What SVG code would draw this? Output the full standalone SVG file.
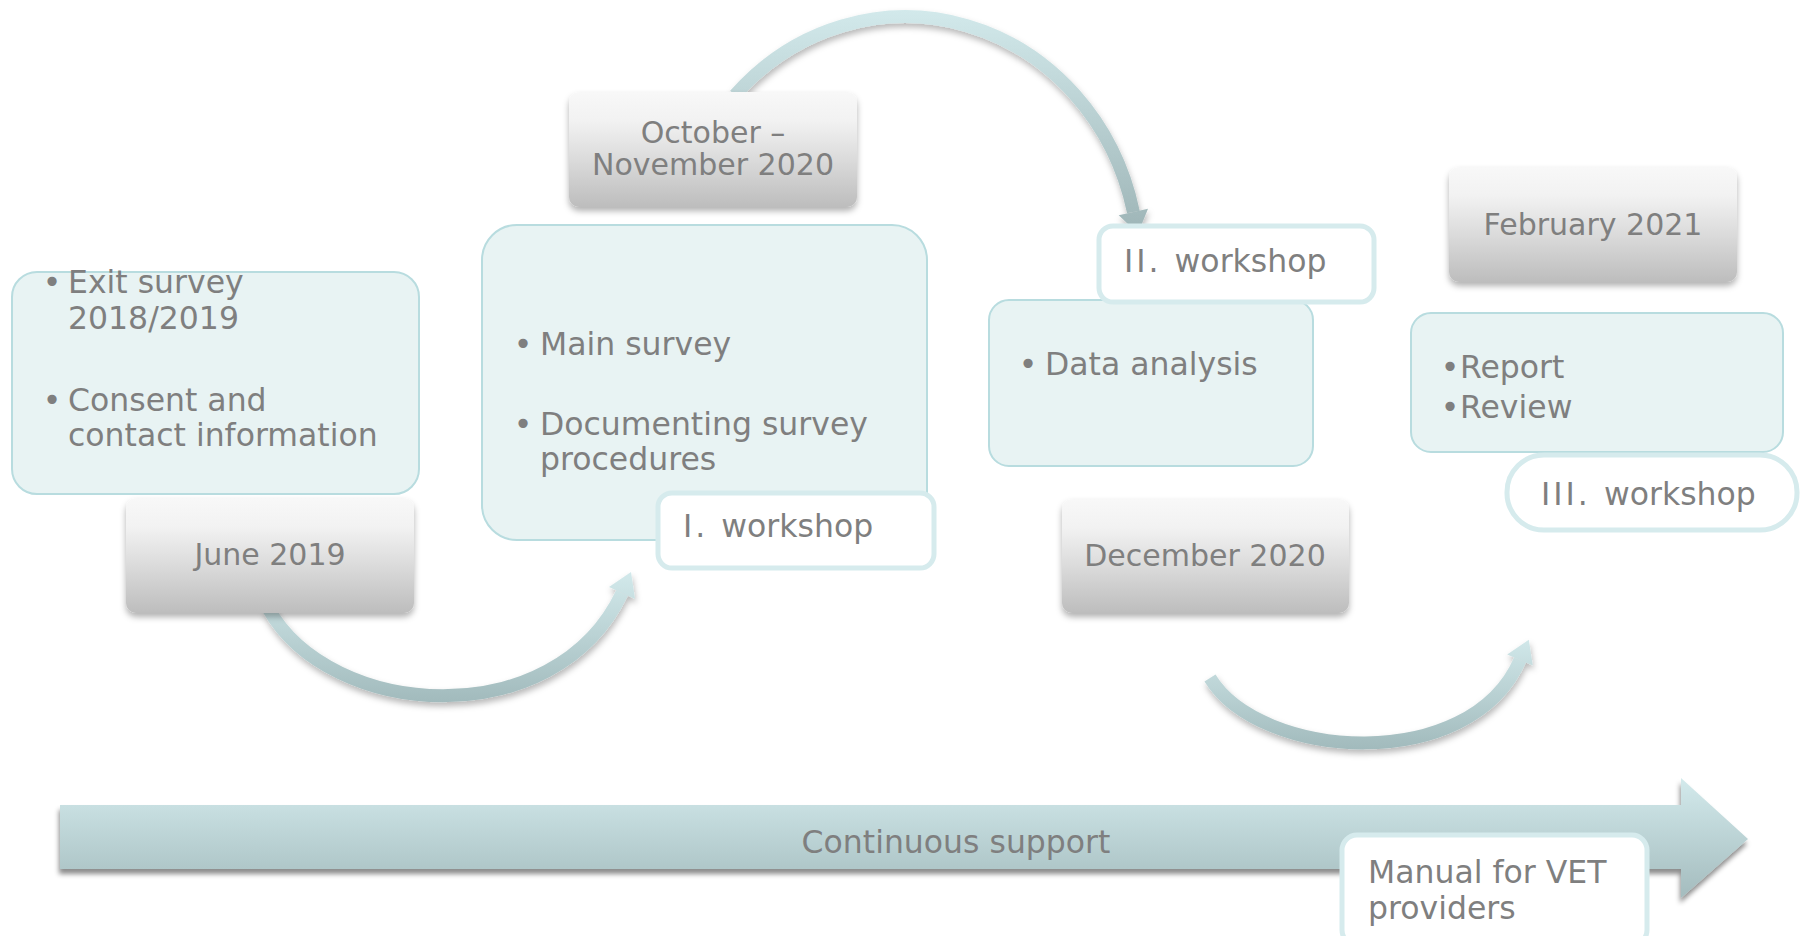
<svg xmlns="http://www.w3.org/2000/svg" width="1803" height="936" viewBox="0 0 1803 936">
  <defs>
    <style>
      .t { font-family: "DejaVu Sans", Verdana, "Liberation Sans", sans-serif; font-size: 31.5px; fill: #7f7f7f; }
      .d { font-size: 30px; text-anchor: middle; }
      .b { text-anchor: middle; }
      .num { letter-spacing: 3px; }
      .panel { fill: #e8f3f3; stroke: #b8dcdf; stroke-width: 2; }
      .tag { fill: #ffffff; stroke: #d6ebed; stroke-width: 5; }
      .date { fill: url(#gDate); filter: url(#shDate); }
    </style>
    <linearGradient id="gDate" x1="0" y1="0" x2="0" y2="1">
      <stop offset="0" stop-color="#f8f8f8"/>
      <stop offset="0.25" stop-color="#f2f2f2"/>
      <stop offset="0.6" stop-color="#dadada"/>
      <stop offset="1" stop-color="#bdbdbd"/>
    </linearGradient>
    <linearGradient id="gBar" x1="0" y1="778" x2="0" y2="900" gradientUnits="userSpaceOnUse">
      <stop offset="0" stop-color="#d3eaec"/>
      <stop offset="1" stop-color="#a3bbbd"/>
    </linearGradient>
    <linearGradient id="gA1" x1="0" y1="572" x2="0" y2="706" gradientUnits="userSpaceOnUse">
      <stop offset="0" stop-color="#d2e9eb"/>
      <stop offset="1" stop-color="#a0b9bb"/>
    </linearGradient>
    <linearGradient id="gA2" x1="0" y1="10" x2="0" y2="236" gradientUnits="userSpaceOnUse">
      <stop offset="0" stop-color="#d2e9eb"/>
      <stop offset="1" stop-color="#9db4b6"/>
    </linearGradient>
    <linearGradient id="gA3" x1="0" y1="636" x2="0" y2="752" gradientUnits="userSpaceOnUse">
      <stop offset="0" stop-color="#d2e9eb"/>
      <stop offset="1" stop-color="#a0b9bb"/>
    </linearGradient>
    <filter id="shDate" x="-10%" y="-10%" width="120%" height="130%">
      <feDropShadow dx="0" dy="4" stdDeviation="3" flood-color="#000" flood-opacity="0.3"/>
    </filter>
    <filter id="shArc" x="-10%" y="-10%" width="120%" height="130%">
      <feDropShadow dx="1" dy="4" stdDeviation="3" flood-color="#000" flood-opacity="0.28"/>
    </filter>
    <filter id="shBar" x="-5%" y="-20%" width="110%" height="150%">
      <feDropShadow dx="-1" dy="5" stdDeviation="2.5" flood-color="#000" flood-opacity="0.45"/>
    </filter>
  </defs>

  <rect width="1803" height="936" fill="#ffffff"/>

  <!-- connectors -->
  <g id="connectors">
    <!-- continuous support band -->
    <g id="support-arrow">
      <polygon points="60,805 1681,805 1681,778 1748,839 1681,898 1681,869 60,869" fill="url(#gBar)" filter="url(#shBar)"/>
      <text class="t" x="956" y="853" text-anchor="middle">Continuous support</text>
    </g>
    <!-- June 2019 to first workshop -->
    <g id="arc-1" filter="url(#shArc)">
      <path d="M268,608 C330,720 555,735 622,593" fill="none" stroke="url(#gA1)" stroke-width="13"/>
      <polygon points="609,587 635,599 631,572" fill="url(#gA1)"/>
    </g>
    <!-- October-November 2020 to second workshop -->
    <g id="arc-2" filter="url(#shArc)">
      <path d="M735,95 A234 250 0 0 1 1133.4 212" fill="none" stroke="url(#gA2)" stroke-width="13"/>
      <polygon points="1118.7,215.2 1148,208.8 1138,233.5" fill="url(#gA2)"/>
    </g>
    <!-- December 2020 to February 2021 -->
    <g id="arc-3" filter="url(#shArc)">
      <path d="M1210,678 C1260,760 1470,775 1520,660" fill="none" stroke="url(#gA3)" stroke-width="13"/>
      <polygon points="1507.2,654.4 1532.8,665.6 1528.8,639.8" fill="url(#gA3)"/>
    </g>
  </g>

  <!-- phase 1 -->
  <g id="panel-1">
    <rect class="panel" x="12" y="272" width="407" height="222" rx="25"/>
    <text class="t b" x="52" y="293">•</text>
    <text class="t" x="68" y="293">Exit survey</text>
    <text class="t" x="68" y="329">2018/2019</text>
    <text class="t b" x="52" y="411">•</text>
    <text class="t" x="68" y="411">Consent and</text>
    <text class="t" x="68" y="446">contact information</text>
  </g>
  <g id="date-1">
    <rect class="date" x="126" y="498" width="288" height="115" rx="10"/>
    <text class="t d" x="270" y="565">June 2019</text>
  </g>

  <!-- phase 2 -->
  <g id="date-2">
    <rect class="date" x="569" y="92" width="288" height="115" rx="10"/>
    <text class="t d" x="713" y="143">October –</text>
    <text class="t d" x="713" y="175">November 2020</text>
  </g>
  <g id="panel-2">
    <rect class="panel" x="482" y="225" width="445" height="315" rx="35"/>
    <text class="t b" x="523" y="355">•</text>
    <text class="t" x="540" y="355">Main survey</text>
    <text class="t b" x="523" y="435">•</text>
    <text class="t" x="540" y="435">Documenting survey</text>
    <text class="t" x="540" y="470">procedures</text>
  </g>
  <g id="workshop-1">
    <rect class="tag" x="658" y="493" width="276" height="75" rx="14"/>
    <text class="t" x="683" y="537"><tspan class="num">I. </tspan>workshop</text>
  </g>

  <!-- phase 3 -->
  <g id="panel-3">
    <rect class="panel" x="989" y="300" width="324" height="166" rx="20"/>
    <text class="t b" x="1028" y="375">•</text>
    <text class="t" x="1045" y="375">Data analysis</text>
  </g>
  <g id="workshop-2">
    <rect class="tag" x="1099" y="226" width="275" height="76" rx="14"/>
    <text class="t" x="1124" y="272"><tspan class="num">II. </tspan>workshop</text>
  </g>
  <g id="date-3">
    <rect class="date" x="1062" y="499" width="287" height="114" rx="10"/>
    <text class="t d" x="1205" y="566">December 2020</text>
  </g>

  <!-- phase 4 -->
  <g id="date-4">
    <rect class="date" x="1449" y="167" width="288" height="115" rx="10"/>
    <text class="t d" x="1593" y="235">February 2021</text>
  </g>
  <g id="panel-4">
    <rect class="panel" x="1411" y="313" width="372" height="139" rx="20"/>
    <text class="t b" x="1450" y="378">•</text>
    <text class="t" x="1460" y="378">Report</text>
    <text class="t b" x="1450" y="418">•</text>
    <text class="t" x="1460" y="418">Review</text>
  </g>
  <g id="workshop-3">
    <rect class="tag" x="1507" y="455" width="290" height="75" rx="37"/>
    <text class="t" x="1541" y="505"><tspan class="num">III. </tspan>workshop</text>
  </g>

  <!-- final output -->
  <g id="manual">
    <rect class="tag" x="1342" y="835" width="305" height="110" rx="15"/>
    <text class="t" x="1368" y="883">Manual for VET</text>
    <text class="t" x="1368" y="919">providers</text>
  </g>
</svg>
